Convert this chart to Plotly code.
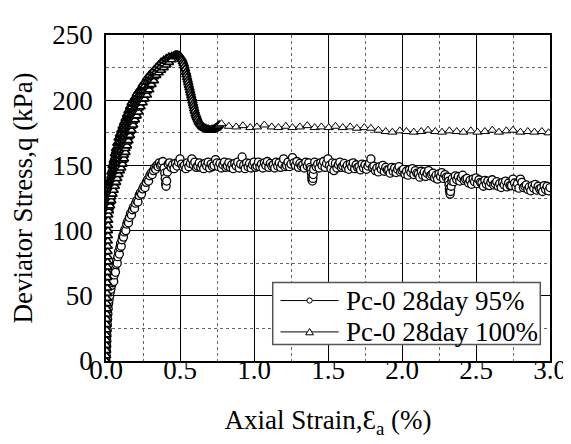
import plotly.graph_objects as go

# ================= data =================
# ---- Pc-0 28day 95%  (open circles) ----
strain_95_rise = [
    0.000, 0.002, 0.003, 0.004, 0.005, 0.006, 0.008, 0.009, 0.011, 0.013,
    0.015, 0.018, 0.021, 0.025, 0.029, 0.033, 0.038, 0.043, 0.048, 0.052,
    0.056, 0.060, 0.064, 0.068, 0.072, 0.076, 0.080, 0.085, 0.090, 0.094,
    0.098, 0.103, 0.108, 0.113, 0.118, 0.123, 0.128, 0.134, 0.140, 0.146,
    0.152, 0.158, 0.165, 0.172, 0.179, 0.186, 0.193, 0.200, 0.208, 0.216,
    0.224, 0.232, 0.240, 0.248, 0.256, 0.264, 0.272, 0.280, 0.288, 0.296,
    0.304, 0.312, 0.320, 0.328, 0.336, 0.344, 0.352, 0.360, 0.368, 0.376,
    0.384, 0.392, 0.397, 0.400, 0.403, 0.406, 0.410, 0.415, 0.420,
]
stress_95_rise = [
    0, 4, 8, 12, 16, 20, 24, 28, 32, 36,
    40, 44, 47, 50, 53, 55, 58, 60, 63, 61,
    66, 70, 68, 74, 77, 75, 80, 84, 82, 87,
    90, 88, 93, 96, 95, 99, 101, 100, 105, 107,
    106, 110, 113, 112, 116, 118, 117, 121, 123, 122,
    127, 129, 128, 132, 134, 133, 137, 139, 138, 142,
    144, 143, 146, 148, 147, 150, 149, 152, 150, 151,
    153, 148, 144, 140, 136, 134, 138, 145, 151,
]
strain_95_flat = [
    0.43, 0.44, 0.45, 0.46, 0.47, 0.48, 0.49, 0.50, 0.51, 0.52,
    0.53, 0.54, 0.55, 0.56, 0.57, 0.58, 0.59, 0.60, 0.61, 0.62,
    0.63, 0.64, 0.65, 0.66, 0.67, 0.68, 0.69, 0.70, 0.71, 0.72,
    0.73, 0.74, 0.75, 0.76, 0.77, 0.78, 0.79, 0.80, 0.81, 0.82,
    0.83, 0.84, 0.85, 0.86, 0.87, 0.88, 0.89, 0.90, 0.91, 0.92,
    0.93, 0.94, 0.95, 0.96, 0.97, 0.98, 0.99, 1.00, 1.01, 1.02,
    1.03, 1.04, 1.05, 1.06, 1.07, 1.08, 1.09, 1.10, 1.11, 1.12,
    1.13, 1.14, 1.15, 1.16, 1.17, 1.18, 1.19, 1.20, 1.21, 1.22,
    1.23, 1.24, 1.25, 1.26, 1.27, 1.28, 1.29, 1.30, 1.31, 1.32,
    1.33, 1.34, 1.35, 1.36, 1.37, 1.38,
    1.385, 1.388, 1.390, 1.392, 1.395, 1.398, 1.400, 1.403,
    1.41, 1.42, 1.43, 1.44, 1.45, 1.46, 1.47, 1.48, 1.49, 1.50,
    1.51, 1.52, 1.53, 1.54, 1.55, 1.56, 1.57, 1.58, 1.59, 1.60,
    1.61, 1.62, 1.63, 1.64, 1.65, 1.66, 1.67, 1.68, 1.69, 1.70,
    1.71, 1.72, 1.73, 1.74, 1.75, 1.76, 1.77, 1.78, 1.79, 1.80,
    1.81, 1.82, 1.83, 1.84, 1.85, 1.86, 1.87, 1.88, 1.89, 1.90,
    1.91, 1.92, 1.93, 1.94, 1.95, 1.96, 1.97, 1.98, 1.99, 2.00,
    2.01, 2.02, 2.03, 2.04, 2.05, 2.06, 2.07, 2.08, 2.09, 2.10,
    2.11, 2.12, 2.13, 2.14, 2.15, 2.16, 2.17, 2.18, 2.19, 2.20,
    2.21, 2.22, 2.23, 2.24, 2.25, 2.26, 2.27, 2.28, 2.29, 2.30,
    2.312, 2.315, 2.318, 2.320, 2.322, 2.325, 2.328, 2.332, 2.336,
    2.34, 2.35, 2.36, 2.37, 2.38, 2.39, 2.40, 2.41, 2.42, 2.43,
    2.44, 2.45, 2.46, 2.47, 2.48, 2.49, 2.50, 2.51, 2.52, 2.53,
    2.54, 2.55, 2.56, 2.57, 2.58, 2.59, 2.60, 2.61, 2.62, 2.63,
    2.64, 2.65, 2.66, 2.67, 2.68, 2.69, 2.70, 2.71, 2.72, 2.73,
    2.74, 2.75, 2.76, 2.77, 2.78, 2.79, 2.80, 2.81, 2.82, 2.83,
    2.84, 2.85, 2.86, 2.87, 2.88, 2.89, 2.90, 2.91, 2.92, 2.93,
    2.94, 2.95, 2.96, 2.97, 2.98, 2.99, 3.00,
]
stress_95_flat = [
    152, 148.5, 150.5, 147.5, 151.5, 149.5, 152.5, 155, 151, 149,
    150, 147.5, 152, 149, 151.5, 155, 150.5, 152.5, 148.5, 149.5,
    152, 148.5, 150.5, 147.5, 151.5, 149.5, 152.5, 148, 151, 149,
    150, 154.5, 152, 149, 151.5, 148, 150.5, 152.5, 148.5, 149.5,
    152, 148.5, 150.5, 147.5, 151.5, 149.5, 152.5, 148, 151, 156.5,
    150, 147.5, 152, 149, 151.5, 148, 150.5, 152.5, 148.5, 149.5,
    152.5, 149, 151, 148, 152, 150, 153, 148.5, 151.5, 149.5,
    150.5, 148, 152.5, 149.5, 152, 148.5, 151, 155, 149, 150,
    152.5, 149, 151, 156, 152, 150, 153, 148.5, 151.5, 149.5,
    150.5, 148, 152.5, 149.5, 152, 148.5,
    147, 144, 141, 139, 138, 140, 143, 147,
    152.5, 149, 151, 148, 152, 150, 153, 148.5, 151.5, 155,
    150, 147.5, 152, 146, 151.5, 148, 150.5, 152.5, 148.5, 149.5,
    151.5, 148, 150, 147, 151, 149, 152, 147.5, 150.5, 148.5,
    149, 146.5, 151, 148, 150.5, 147, 149.5, 151.5, 155, 148.5,
    149.5, 146, 148, 145, 149, 147, 150, 145.5, 148.5, 146.5,
    146.5, 144, 148.5, 145.5, 148, 144.5, 147, 149, 145, 146,
    147, 143.5, 145.5, 142.5, 146.5, 144.5, 147.5, 143, 146, 144,
    143.5, 141, 145.5, 142.5, 145, 141.5, 144, 146, 142, 143,
    144, 140.5, 142.5, 139.5, 143.5, 141.5, 144.5, 140, 143, 141,
    141, 138, 135, 132, 130, 128, 130, 134, 138,
    140, 137.5, 142, 139, 141.5, 138, 140.5, 142.5, 138.5, 139.5,
    140, 136.5, 138.5, 135.5, 139.5, 137.5, 140.5, 136, 139, 137,
    136.5, 134, 138.5, 135.5, 138, 134.5, 137, 139, 135, 136,
    137.5, 134, 136, 133, 137, 135, 138, 133.5, 136.5, 134.5,
    134.5, 139.5, 136.5, 133.5, 136, 132.5, 139.5, 137, 133, 134,
    135, 131.5, 133.5, 130.5, 134.5, 132.5, 135.5, 131, 134, 132,
    132.5, 130, 134.5, 131.5, 134, 130.5, 133,
]

# ---- Pc-0 28day 100%  (open triangles) ----
# near-vertical initial column
strain_100_col = [
    0.000, 0.001, 0.002, 0.002, 0.003, 0.003, 0.004, 0.004, 0.005, 0.005,
    0.006, 0.006, 0.007, 0.007, 0.008, 0.008, 0.009, 0.009, 0.010, 0.010,
    0.011, 0.011, 0.012, 0.012, 0.013, 0.013, 0.014, 0.015, 0.016, 0.017,
    0.018,
]
stress_100_col = [
    0, 4, 8, 12, 16, 20, 24, 28, 32, 36,
    40, 44, 48, 52, 56, 60, 64, 68, 72, 76,
    80, 84, 88, 92, 96, 100, 104, 108, 112, 116,
    120,
]
# stepped loading band: (strain, stresses recorded at that strain)
band_100 = [
    (0.020, [115, 118, 121, 124, 127, 130, 132]),
    (0.028, [119, 122, 125, 128, 131, 134, 137, 139]),
    (0.036, [123, 126, 129, 132, 136, 139, 142, 145]),
    (0.044, [128, 131, 134, 137, 140, 144, 147, 150]),
    (0.052, [131, 134, 137, 140, 143, 146, 149, 152, 154]),
    (0.060, [134, 137, 140, 143, 147, 150, 153, 156, 159]),
    (0.068, [137, 140, 143, 146, 149, 152, 155, 158, 161, 163]),
    (0.076, [140, 143, 146, 149, 152, 155, 158, 161, 164, 167]),
    (0.085, [143, 146, 149, 152, 156, 159, 162, 165, 168, 171]),
    (0.094, [146, 149, 152, 155, 158, 161, 164, 168, 171, 174]),
    (0.103, [148, 151, 154, 157, 161, 164, 167, 170, 174, 177]),
    (0.112, [151, 154, 157, 160, 164, 167, 170, 173, 177, 180]),
    (0.122, [155, 158, 161, 164, 167, 170, 174, 177, 180, 183]),
    (0.132, [160, 163, 166, 169, 172, 175, 178, 181, 184, 186]),
    (0.142, [165, 168, 171, 174, 177, 180, 183, 186, 189]),
    (0.152, [169, 172, 175, 178, 181, 184, 187, 190, 192]),
    (0.162, [173, 176, 179, 182, 185, 188, 192, 195]),
    (0.173, [177, 180, 183, 186, 189, 192, 195, 198]),
    (0.184, [181, 184, 187, 190, 193, 197, 200]),
    (0.196, [185, 188, 191, 194, 197, 200, 202]),
    (0.208, [188, 191, 194, 197, 200, 203, 205]),
    (0.221, [191, 194, 197, 200, 204, 207]),
    (0.234, [195, 198, 201, 204, 207, 209]),
    (0.248, [198, 201, 204, 207, 210, 212]),
    (0.262, [201, 204, 207, 211, 214]),
    (0.277, [204, 207, 210, 214, 217]),
    (0.292, [208, 211, 214, 217, 219]),
    (0.308, [212, 215, 218, 221]),
    (0.324, [215, 218, 221, 223]),
    (0.340, [219, 222, 225]),
    (0.356, [221, 224, 227]),
    (0.372, [223, 226, 229]),
    (0.390, [225, 228, 230.5]),
    (0.408, [227, 230, 232]),
    (0.426, [229, 231.5, 233]),
    (0.444, [231, 233.5]),
]
# peak and softening part
strain_100_peak = [
    0.455, 0.460, 0.465, 0.470, 0.475, 0.480, 0.485, 0.490, 0.495, 0.500,
    0.505, 0.510, 0.515, 0.520, 0.525, 0.530, 0.535, 0.540, 0.544, 0.548,
    0.552, 0.556, 0.560, 0.564, 0.568, 0.572, 0.576, 0.580, 0.584, 0.588,
    0.592, 0.596, 0.600, 0.605, 0.610, 0.615, 0.620, 0.626, 0.632, 0.638,
    0.645, 0.652, 0.660, 0.668, 0.676, 0.684, 0.692, 0.700, 0.708, 0.716,
    0.724, 0.732, 0.740, 0.748, 0.756, 0.764,
]
stress_100_peak = [
    233.5, 234, 234, 234.5, 234.5, 234.5, 234.5, 234, 234, 233.5,
    233, 232, 231, 229.5, 228, 226, 224, 221.5, 219.5, 217.5,
    215.5, 213.5, 211.5, 209.5, 207.5, 205.5, 203.5, 201.5, 199.5, 197.5,
    195.5, 193.5, 191.5, 189.5, 188, 186.5, 185, 183.5, 182.5, 181.5,
    180.5, 179.5, 179, 178.5, 178, 177.5, 177.5, 177, 177, 177.5,
    177.5, 178, 178.5, 179, 180, 181,
]
# residual part
strain_100_res = [
    0.780, 0.830, 0.880, 0.925, 0.975, 1.020, 1.070, 1.120, 1.165, 1.215,
    1.260, 1.310, 1.360, 1.410, 1.455, 1.505, 1.550, 1.600, 1.650, 1.695,
    1.745, 1.790, 1.840, 1.890, 1.935, 1.985, 2.030, 2.080, 2.130, 2.175,
    2.225, 2.270, 2.320, 2.370, 2.415, 2.465, 2.510, 2.560, 2.610, 2.655,
    2.705, 2.750, 2.800, 2.850, 2.895, 2.945, 2.990,
]
stress_100_res = [
    182, 180, 179.5, 180.5, 179, 179.5, 181, 179.5, 179, 180,
    179, 179.5, 180.5, 179, 179.5, 179, 180, 179, 179.5, 178.5,
    179, 178.5, 177, 176, 175.5, 176.5, 176, 175.5, 176, 177,
    176, 175.5, 176.5, 176, 175.5, 176.5, 175.5, 176, 177, 175.5,
    176.5, 177, 175.5, 176, 175.5, 176, 175,
]

legend_names = ["Pc-0 28day 95%", "Pc-0 28day 100%"]
x_ticks = [0.0, 0.5, 1.0, 1.5, 2.0, 2.5, 3.0]
y_ticks = [0, 50, 100, 150, 200, 250]

# ================= build series =================
x95 = strain_95_rise + strain_95_flat
y95 = stress_95_rise + stress_95_flat
x100 = list(strain_100_col)
y100 = list(stress_100_col)
for s, qs in band_100:
    x100 += [s] * len(qs)
    y100 += qs
x100 += strain_100_peak
y100 += stress_100_peak
n_dense = len(x100)
x100 += strain_100_res
y100 += stress_100_res
# dense pre-residual part drawn with heavier outlines (appears as solid black)
tri_lw = [1.6] * n_dense + [1.0] * len(strain_100_res)

FONT = "Liberation Serif"

fig = go.Figure()
fig.add_trace(go.Scatter(
    x=x95, y=y95, mode="lines+markers", name=legend_names[0],
    line=dict(color="black", width=1.3),
    marker=dict(symbol="circle", size=8, color="white",
                line=dict(color="black", width=1.3)),
    showlegend=False,
))
fig.add_trace(go.Scatter(
    x=x100, y=y100, mode="lines+markers", name=legend_names[1],
    line=dict(color="#333", width=1.2),
    marker=dict(symbol="triangle-up", size=8, color="white",
                line=dict(color="black", width=tri_lw)),
    showlegend=False,
))

# plot area in pixels: x 95..553, y 17..353
L, R, T, B = 95, 553, 17, 353
def px(x):
    return (x - L) / (R - L)
def py(y):
    return (B - y) / (B - T)

shapes = [
    dict(type="rect", xref="paper", yref="paper",
         x0=px(267), x1=px(543), y0=py(336), y1=py(272),
         fillcolor="white", line=dict(color="#555", width=1.5), layer="above"),
]
rows = [290.7, 323.0]
for ry in rows:
    shapes.append(dict(type="line", xref="paper", yref="paper",
                       x0=px(275), x1=px(335), y0=py(ry), y1=py(ry),
                       line=dict(color="black", width=1), layer="above"))
shapes.append(dict(type="circle", xref="paper", yref="paper",
                   x0=px(302.3), x1=px(307.7), y0=py(rows[0] + 2.7), y1=py(rows[0] - 2.7),
                   fillcolor="white", line=dict(color="black", width=1), layer="above"))
tri = "M {},{} L {},{} L {},{} Z".format(px(301), py(rows[1] + 3), px(309), py(rows[1] + 3),
                                         px(305), py(rows[1] - 3.5))
shapes.append(dict(type="path", xref="paper", yref="paper", path=tri,
                   fillcolor="white", line=dict(color="black", width=1), layer="above"))

annotations = []
for ry, name in zip(rows, legend_names):
    annotations.append(dict(xref="paper", yref="paper", x=px(341), y=py(ry),
                            xanchor="left", yanchor="middle", showarrow=False,
                            text=name, font=dict(family=FONT, size=27, color="black")))

fig.update_layout(
    width=571, height=444,
    margin=dict(l=L, r=571 - R, t=T, b=444 - B),
    paper_bgcolor="white", plot_bgcolor="white",
    font=dict(family=FONT, color="black", size=27),
    shapes=shapes, annotations=annotations,
    showlegend=False,
)
fig.update_xaxes(
    range=[0, 3], tickvals=x_ticks, ticktext=[f"{v:.1f}" for v in x_ticks],
    showline=True, mirror=True, linecolor="black", linewidth=1.5,
    showgrid=True, gridcolor="black", gridwidth=1,
    minor=dict(dtick=0.25, showgrid=True, gridcolor="#666", griddash="dot", gridwidth=1),
    ticks="", zeroline=False, ticklabelstandoff=-16,
    tickfont=dict(family=FONT, size=27, color="black"),
    title=dict(text="Axial Strain,Ɛ<sub>a</sub> (%)", font=dict(family=FONT, size=27, color="black"), standoff=26),
)
fig.update_yaxes(
    range=[0, 250], tickvals=y_ticks,
    showline=True, mirror=True, linecolor="black", linewidth=1.5,
    showgrid=True, gridcolor="black", gridwidth=1,
    minor=dict(dtick=25, showgrid=True, gridcolor="#666", griddash="dot", gridwidth=1),
    ticks="", zeroline=False, ticklabelstandoff=6,
    tickfont=dict(family=FONT, size=27, color="black"),
    title=dict(text="Deviator Stress,q (kPa)", font=dict(family=FONT, size=27, color="black"), standoff=13),
)

fig.write_html("out.html")
